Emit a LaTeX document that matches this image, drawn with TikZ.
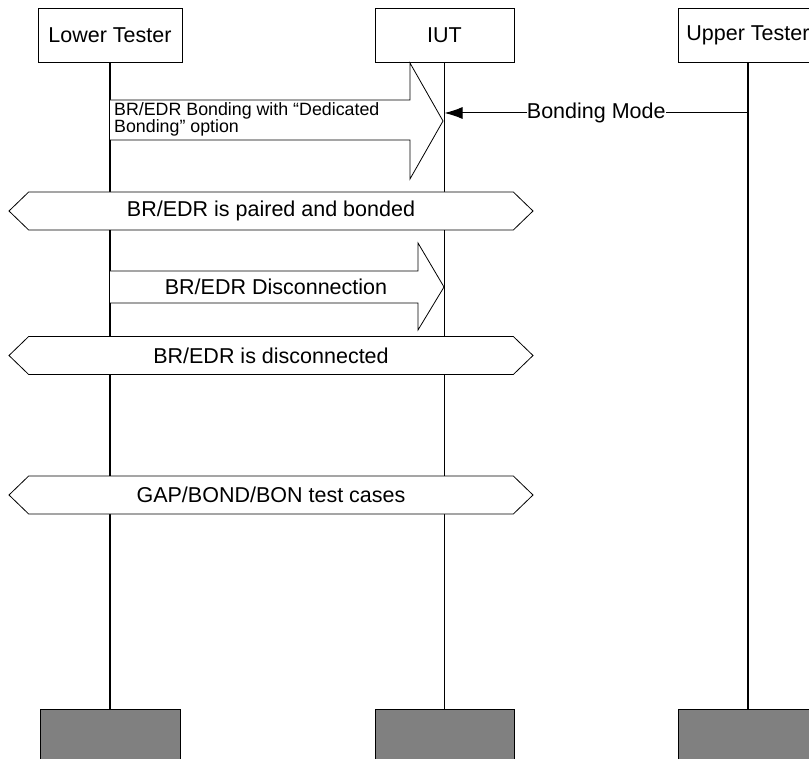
\documentclass[tikz,border=0pt]{standalone}
\usepackage{fontspec}
\setmainfont{Liberation Sans}
\usetikzlibrary{arrows.meta,calc,positioning,shapes.symbols}
\definecolor{endgray}{HTML}{808080}
\tikzset{
    every node/.style={font=\fontsize{21.5}{25}\selectfont},
    actor/.style={draw,fill=white,line width=0.9pt,minimum width=140pt,minimum height=54pt,inner sep=0pt},
    actorend/.style={actor,fill=endgray},
    lifeline/.style={line width=1.2pt},
    bigmsg/.style={draw,fill=white,line width=0.8pt,line join=miter},
    phase/.style={signal,signal to=west and east,signal pointer angle=88,draw,fill=white,
        line width=0.8pt,minimum width=524pt,minimum height=38pt,inner sep=0pt},
    ctrl/.style={-{Latex[length=18pt,width=12pt]},line width=1pt},
    smalltext/.style={font=\fontsize{17.8}{17}\selectfont,align=left,inner sep=0pt}
}
\begin{document}
\begin{tikzpicture}[x=1pt,y=-1pt]
\useasboundingbox (0,0) rectangle (809,759);

% participants and their ends
\node[actor,minimum width=144pt] (lt) at (110,35.5) {Lower Tester};
\node[actor,minimum width=139pt] (iut) at (444.5,35.5) {IUT};
\node[actor] (ut) at (748,35.5) {Upper Tester};
\node[actorend] (ltend) at (110,736) {};
\node[actorend,minimum width=139pt] (iutend) at (444.5,736) {};
\node[actorend] (utend) at (748,736) {};

\draw[lifeline] (lt) -- (ltend);
\draw[lifeline] (iut) -- (iutend);
\draw[lifeline] (ut) -- (utend);

% bonding request
\draw[bigmsg] (lt |- 0,100) -- (410,100) -- (410,63) -- (443,121)
    -- (410,179) -- (410,140) -- (lt |- 0,140);
\node[smalltext,anchor=west] (bond) at (114,119)
    {BR/EDR Bonding with “Dedicated\\Bonding” option};

\draw[ctrl] (ut |- 0,113) -- node[fill=white,inner sep=0pt] (mode) {Bonding Mode} (iut |- 0,113);

\node[phase] (paired) at (271,211) {BR/EDR is paired and bonded};

% disconnect
\draw[bigmsg] (lt |- 0,271) -- (418,271) -- (418,243) -- (444,287)
    -- (418,330) -- (418,303) -- (lt |- 0,303);
\node (disc) at (276,287) {BR/EDR Disconnection};

\node[phase] (discon) at (271,355.5) {BR/EDR is disconnected};
\node[phase] (cases) at (271,495) {GAP/BOND/BON test cases};
\end{tikzpicture}
\end{document}
